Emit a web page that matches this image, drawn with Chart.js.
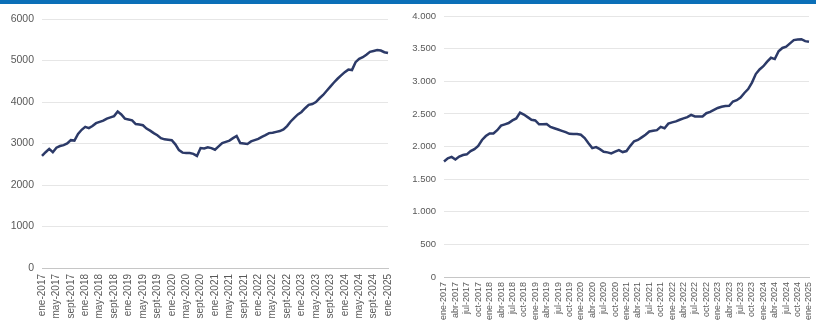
<!DOCTYPE html>
<html>
<head>
<meta charset="utf-8">
<script src="https://cdn.jsdelivr.net/npm/chart.js@4"></script>
<style>
  html, body { margin: 0; padding: 0; background: #fff; }
  body { width: 816px; height: 323px; overflow: hidden; position: relative; }
  #bar { position: absolute; left: 0; top: 0; width: 816px; height: 4px; background: #0b6fb8; z-index: 2; }
  .box { position: absolute; top: 0; height: 335px; }
  #leftBox { left: 0; width: 400px; }
  #rightBox { left: 400px; width: 416px; }
</style>
</head>
<body>
<div id="bar"></div>
<div class="box" id="leftBox"><canvas id="left"></canvas></div>
<div class="box" id="rightBox"><canvas id="right"></canvas></div>
<script>
// Monthly series, ene-2017 .. ene-2025
const monthsLeft = ['ene','feb','mar','abr','may','jun','jul','ago','sept','oct','nov','dic'];
const monthsRight = ['ene','feb','mar','abr','may','jun','jul','ago','sep','oct','nov','dic'];
const years = [2017, 2018, 2019, 2020, 2021, 2022, 2023, 2024, 2025];

const seriesLeft = [
  2700, 2790, 2870, 2790, 2900, 2940, 2960, 3000, 3080, 3070, 3230, 3330,
  3400, 3370, 3420, 3490, 3520, 3550, 3600, 3630, 3660, 3770, 3700, 3600,
  3580, 3560, 3470, 3460, 3440, 3360, 3310, 3250, 3200, 3130, 3100, 3090,
  3080, 2980, 2840, 2780, 2770, 2770, 2750, 2700, 2890, 2880, 2910, 2890,
  2850, 2930, 3010, 3040, 3070, 3130, 3180, 3010, 3000, 2990, 3050, 3080,
  3110, 3160, 3200, 3250, 3260, 3280, 3300, 3340, 3420, 3530, 3620, 3700,
  3760, 3850, 3930, 3950, 4000, 4090, 4170, 4270, 4370, 4470, 4560, 4640,
  4720, 4780, 4770, 4960, 5040, 5080, 5140, 5210, 5230, 5250, 5240, 5200,
  5180
];

const seriesRight = [
  1770, 1820, 1840, 1800, 1845, 1870, 1880, 1930, 1960, 2010, 2100, 2160,
  2200, 2200, 2250, 2320, 2340, 2360, 2400, 2430, 2520, 2490, 2450, 2410,
  2400, 2340, 2340, 2345, 2300, 2280, 2260, 2240, 2220, 2195, 2190, 2190,
  2180, 2130, 2050, 1975, 1990, 1960, 1920, 1910, 1895, 1920, 1945, 1915,
  1930, 2010, 2080, 2100, 2140, 2180, 2230, 2240, 2250, 2300, 2280, 2350,
  2370, 2385, 2410, 2430, 2450, 2485, 2460, 2460, 2460, 2510, 2530, 2560,
  2590, 2610, 2620, 2625, 2690, 2710, 2750, 2820, 2880, 2980, 3110, 3180,
  3230, 3300, 3360, 3340, 3460, 3510, 3530, 3580, 3630, 3640, 3645, 3615,
  3605
];

function buildLabels(names) {
  const out = [];
  for (const y of years) {
    for (const m of names) {
      out.push(m + '-' + y);
      if (y === 2025) return out;
    }
  }
  return out;
}
const labelsLeft = buildLabels(monthsLeft);
const labelsRight = buildLabels(monthsRight);

const lineColor = '#2c3a68';
const tickColor = '#595959';

function makeChart(id, labels, values, cfg) {
  return new Chart(document.getElementById(id), {
    type: 'line',
    data: {
      labels: labels,
      datasets: [{
        data: values,
        borderColor: lineColor,
        borderWidth: 2.5,
        pointRadius: 0,
        tension: 0,
        fill: false
      }]
    },
    options: {
      responsive: true,
      maintainAspectRatio: false,
      animation: false,
      events: [],
      layout: { padding: { top: cfg.top, right: cfg.right, bottom: 0, left: 0 } },
      plugins: { legend: { display: false }, tooltip: { enabled: false } },
      scales: {
        x: {
          grid: { display: false, drawTicks: false },
          border: { display: true, color: '#c6c6c6', width: 1 },
          ticks: {
            autoSkip: false,
            minRotation: 90,
            maxRotation: 90,
            padding: cfg.xPad,
            color: tickColor,
            font: { family: 'Liberation Sans, Arial, sans-serif', size: cfg.xFont },
            callback: function (v, i) { return i % cfg.every === 0 ? labels[i] : ''; }
          },
          afterFit: function (s) {
            s.height = cfg.xHeight;
            s.paddingLeft = 0;
            s.paddingRight = 0;
          }
        },
        y: {
          min: 0,
          max: cfg.max,
          grid: { color: '#e6e6e6', lineWidth: 1, drawTicks: false },
          border: { display: false },
          ticks: {
            stepSize: cfg.step,
            padding: 8,
            color: tickColor,
            font: { family: 'Liberation Sans, Arial, sans-serif', size: cfg.yFont },
            callback: cfg.fmt
          },
          afterFit: function (s) { s.width = cfg.yWidth; }
        }
      }
    }
  });
}

makeChart('left', labelsLeft, seriesLeft, {
  top: 19, right: 12, every: 4, xPad: 6, xFont: 10, xHeight: 335 - 268,
  max: 6000, step: 1000, yFont: 10.5, yWidth: 42,
  fmt: v => String(v)
});

makeChart('right', labelsRight, seriesRight, {
  top: 16, right: 7, every: 3, xPad: 5, xFont: 9, xHeight: 335 - 277,
  max: 4000, step: 500, yFont: 9.5, yWidth: 44,
  fmt: v => String(v).replace(/\B(?=(\d{3})+(?!\d))/g, '.')
});
</script>
</body>
</html>
